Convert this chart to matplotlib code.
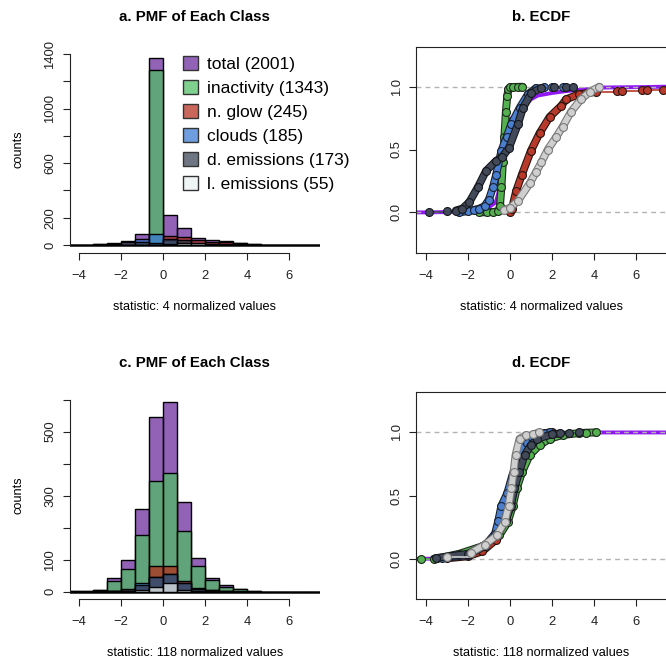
import matplotlib
matplotlib.use("Agg")
import matplotlib.pyplot as plt
from matplotlib.patches import Patch
from matplotlib.collections import LineCollection
import matplotlib.patheffects as pe

plt.rcParams['font.family'] = ['Liberation Sans', 'DejaVu Sans']

# ---------------- data ----------------
class_names = ["total", "inactivity", "n. glow", "clouds", "d. emissions", "l. emissions"]
class_sizes = [2001, 1343, 245, 185, 173, 55]

# histogram bins (left edges, width 2/3)
bin_left = [-4.667, -4.0, -3.333, -2.667, -2.0, -1.333, -0.667, 0.0, 0.667,
            1.333, 2.0, 2.667, 3.333, 4.0, 4.667, 5.333, 6.0, 6.667, 7.333]
bin_width = 0.6667

# panel a: statistic 4
pmf4_total = [1, 3, 5, 12, 27, 78, 1369, 222, 121, 53, 34, 32, 15, 7, 2, 1, 2, 1, 0]
pmf4_inact = [0, 0, 0, 1, 2, 20, 1284, 30, 4, 1, 0, 0, 0, 0, 0, 0, 0, 0, 0]
pmf4_glow = [0, 0, 0, 0, 1, 4, 10, 66, 58, 33, 25, 23, 12, 6, 2, 1, 2, 1, 0]
pmf4_clouds = [0, 0, 0, 1, 3, 41, 78, 40, 12, 5, 2, 1, 1, 0, 0, 0, 0, 0, 0]
pmf4_demis = [1, 2, 4, 10, 22, 24, 15, 45, 35, 10, 4, 1, 0, 0, 0, 0, 0, 0, 0]
pmf4_lemis = [0, 0, 0, 0, 0, 0, 1, 6, 11, 12, 10, 9, 4, 2, 0, 0, 0, 0, 0]

# panel c: statistic 118
pmf118_total = [1, 3, 5, 42, 100, 258, 545, 593, 281, 104, 42, 20, 8, 2, 0, 0, 0, 0, 0]
pmf118_inact = [1, 2, 4, 33, 70, 177, 347, 370, 190, 81, 35, 16, 8, 2, 0, 0, 0, 0, 0]
pmf118_glow = [0, 0, 0, 2, 5, 15, 81, 81, 34, 12, 5, 3, 1, 0, 0, 0, 0, 0, 0]
pmf118_clouds = [0, 0, 1, 2, 6, 28, 45, 55, 28, 9, 4, 2, 0, 0, 0, 0, 0, 0, 0]
pmf118_demis = [0, 0, 1, 2, 9, 20, 46, 56, 27, 8, 3, 1, 0, 0, 0, 0, 0, 0, 0]
pmf118_lemis = [0, 0, 0, 1, 2, 4, 14, 28, 5, 1, 0, 0, 0, 0, 0, 0, 0, 0, 0]

# panel b: ECDF knots, statistic 4
ecdf4_total_x = [-3.84, -2.9, -2.5, -1.5, -1.0, -0.67, -0.55, -0.4, -0.25, -0.1, 0.0, 0.3, 0.67,
                 1.0, 1.33, 2.0, 2.67, 3.33, 4.0, 4.3, 5.0, 6.3, 7.3]
ecdf4_total_F = [0.0, 0.003, 0.008, 0.02, 0.04, 0.08, 0.15, 0.35, 0.55, 0.68, 0.74, 0.77, 0.84,
                 0.9, 0.93, 0.95, 0.965, 0.975, 0.985, 0.993, 0.995, 0.997, 1.0]
ecdf4_inact_x = [-1.45, -1.1, -0.8, -0.55, -0.47, -0.4, -0.33, -0.26, -0.19, -0.12, -0.07, 0.0, 0.15, 0.4, 0.6]
ecdf4_inact_F = [0.0, 0.001, 0.003, 0.01, 0.05, 0.2, 0.4, 0.6, 0.8, 0.93, 0.98, 0.995, 0.998, 0.999, 1.0]
ecdf4_glow_x = [0.0, 0.1, 0.3, 0.57, 1.0, 1.41, 1.89, 2.45, 2.67, 3.3, 4.1, 5.07, 5.3, 6.26, 6.5, 7.27]
ecdf4_glow_F = [0.0, 0.03, 0.17, 0.3, 0.49, 0.63, 0.76, 0.85, 0.9, 0.94, 0.96, 0.965, 0.967, 0.97, 0.972, 0.975]
ecdf4_clouds_x = [-2.4, -2.0, -1.7, -1.45, -1.2, -1.0, -0.8, -0.65, -0.4, -0.15, 0.06, 0.46, 0.86, 1.25, 1.6, 2.0, 2.5]
ecdf4_clouds_F = [0.0, 0.01, 0.02, 0.03, 0.05, 0.1, 0.2, 0.3, 0.49, 0.6, 0.7, 0.83, 0.94, 0.99, 0.995, 0.997, 1.0]
ecdf4_demis_x = [-3.84, -2.96, -2.56, -2.25, -1.93, -1.52, -1.13, -0.65, -0.37, -0.05, 0.38, 0.62,
                 1.02, 1.49, 2.1, 2.67, 3.0]
ecdf4_demis_F = [0.005, 0.01, 0.015, 0.03, 0.08, 0.2, 0.33, 0.41, 0.44, 0.51, 0.7, 0.83,
                 0.95, 0.99, 0.994, 0.997, 1.0]
ecdf4_lemis_x = [-0.3, 0.0, 0.38, 0.94, 1.24, 1.5, 1.8, 2.2, 2.5, 2.9, 3.38, 3.8, 4.25]
ecdf4_lemis_F = [0.018, 0.036, 0.09, 0.23, 0.32, 0.4, 0.5, 0.6, 0.68, 0.8, 0.9, 0.96, 1.0]

# panel d: ECDF knots, statistic 118
ecdf118_total_x = [-4.2, -3.5, -2.5, -1.5, -1.0, -0.5, -0.2, 0.05, 0.25, 0.5, 0.8, 1.2, 1.6, 2.2, 3.0, 4.2]
ecdf118_total_F = [0.0, 0.002, 0.02, 0.06, 0.11, 0.2, 0.3, 0.45, 0.6, 0.74, 0.85, 0.92, 0.95, 0.975, 0.99, 1.0]
ecdf118_inact_x = [-4.2, -3.6, -3.45, -2.4, -1.3, -0.5, -0.1, 0.14, 0.33, 0.59, 0.94, 1.41, 1.89, 2.5, 3.3, 3.6, 4.1]
ecdf118_inact_F = [0.001, 0.002, 0.003, 0.04, 0.1, 0.185, 0.29, 0.42, 0.56, 0.69, 0.82, 0.9, 0.95, 0.98, 0.995, 0.998, 1.0]
ecdf118_glow_x = [-3.0, -2.0, -1.3, -0.67, -0.3, 0.0, 0.2, 0.4, 0.6, 0.8, 1.2, 2.0]
ecdf118_glow_F = [0.004, 0.02, 0.06, 0.15, 0.3, 0.48, 0.62, 0.78, 0.9, 0.96, 0.99, 1.0]
ecdf118_clouds_x = [-3.2, -2.0, -1.2, -0.7, -0.55, -0.4, -0.12, 0.1, 0.4, 0.8, 1.3, 1.9]
ecdf118_clouds_F = [0.005, 0.03, 0.1, 0.2, 0.3, 0.42, 0.52, 0.65, 0.8, 0.92, 0.98, 1.0]
ecdf118_demis_x = [-3.5, -2.0, -1.25, -0.6, -0.2, 0.05, 0.22, 0.45, 0.7, 1.0, 1.3, 2.0, 2.4, 2.8, 3.3]
ecdf118_demis_F = [0.006, 0.04, 0.1, 0.19, 0.3, 0.42, 0.56, 0.69, 0.82, 0.9, 0.95, 0.985, 0.992, 0.996, 1.0]
ecdf118_lemis_x = [-3.0, -1.84, -1.2, -0.62, -0.25, -0.06, 0.07, 0.18, 0.27, 0.46, 0.78, 1.1, 1.4]
ecdf118_lemis_F = [0.018, 0.05, 0.11, 0.185, 0.29, 0.42, 0.56, 0.69, 0.82, 0.95, 0.98, 0.99, 1.0]

x_ticks = [-4, -2, 0, 2, 4, 6]
pmf4_yticks = [0, 200, 400, 600, 800, 1000, 1200, 1400]
pmf4_yticklabels = ["0", "200", "", "600", "", "1000", "", "1400"]
pmf118_yticks = [0, 100, 200, 300, 400, 500, 600]
pmf118_yticklabels = ["0", "100", "", "300", "", "500", ""]
ecdf_yticks = [0.0, 0.5, 1.0]
ecdf_yticklabels = ["0.0", "0.5", "1.0"]

# ---------------- style ----------------
ALPHA = 0.72
hist_rgb = [(104, 37, 156), (79, 190, 101), (179, 45, 26), (54, 120, 212), (56, 65, 84), (234, 240, 240)]
hist_colors = [(r / 255, g / 255, b / 255, ALPHA) for r, g, b in hist_rgb]
ecdf_colors = ["#8f18f0", "#55b04f", "#b83a2a", "#4a7fd0", "#424a5a", "#cfcfcf"]
ecdf_edges = ["none", "#1c2a1c", "#2a1410", "#18202e", "#15181d", "#7a7a7a"]

W, H = 666, 663
fig = plt.figure(figsize=(W / 100, H / 100), dpi=100)


def axes_px(left, top, right, bottom):
    return fig.add_axes([left / W, 1 - bottom / H, (right - left) / W, (bottom - top) / H])


ax_a = axes_px(70, 46.5, 319.6, 252.6)
ax_b = axes_px(416.3, 46.5, 666.6, 252.6)
ax_c = axes_px(70, 392, 319.6, 599.3)
ax_d = axes_px(416.3, 392, 666.6, 599.3)

XLIM = (-4.44, 7.44)
TICK_KW = dict(direction='out', length=5.3, width=0.8, labelsize=9.4, color='#222222',
               labelcolor='#222222')


def style_common(ax):
    ax.set_xlim(*XLIM)
    ax.set_xticks(x_ticks)
    ax.set_xticklabels([f"{t:g}".replace("-", "\u2212") for t in x_ticks])
    ax.tick_params(axis='x', pad=7, **TICK_KW)
    ax.tick_params(axis='y', pad=4.5, **TICK_KW)
    for lab in ax.get_yticklabels():
        lab.set_rotation(90)
        lab.set_va('center')
    for s in ax.spines.values():
        s.set_linewidth(0.8)
        s.set_color('#222222')


def draw_pmf(ax, series, yticks, yticklabels, ylim):
    for vals, col in zip(series, hist_colors):
        ax.bar(bin_left, vals, width=bin_width, align='edge', color=col,
               edgecolor='black', linewidth=1.0)
    ax.set_ylim(*ylim)
    ax.set_yticks(yticks)
    ax.set_yticklabels(yticklabels)
    style_common(ax)
    ax.spines['top'].set_visible(False)
    ax.spines['right'].set_visible(False)
    ax.spines['left'].set_bounds(yticks[0], yticks[-1])
    ax.spines['bottom'].set_bounds(x_ticks[0], x_ticks[-1])
    ax.set_ylabel("counts", fontsize=9.2)
    ax.yaxis.label.set_va('center')
    ax.yaxis.set_label_coords(-0.207, 0.5)


LW_CORE, LW_EDGE, MS = 4.1, 5.7, 5.7


def draw_ecdf_class(ax, xs, fs, n, color, edge, z):
    # dense stretches look like a thick outlined band, sparse ones show separate points
    dense = []
    for i in range(len(xs) - 1):
        dx = max(xs[i + 1] - xs[i], 1e-6)
        dense.append((fs[i + 1] - fs[i]) * n / dx >= 3.0)
    runs, cur = [], [0]
    for i, d in enumerate(dense):
        if d:
            cur.append(i + 1)
        else:
            runs.append(cur)
            cur = [i + 1]
    runs.append(cur)
    thin = [[(xs[i], fs[i]), (xs[i + 1], fs[i])] for i, d in enumerate(dense) if not d]
    if thin:
        ax.add_collection(LineCollection(thin, colors=color, linewidths=1.2, zorder=z))
    for r in runs:
        if len(r) > 1:
            ax.plot([xs[i] for i in r], [fs[i] for i in r], color=color, lw=LW_CORE,
                    solid_capstyle='round', solid_joinstyle='round', zorder=z + 0.1,
                    path_effects=[pe.Stroke(linewidth=LW_EDGE, foreground=edge), pe.Normal()])
    ax.plot(xs, fs, 'o', ms=MS, mfc=color, mec=edge, mew=0.8, zorder=z + 0.2, linestyle='none')


def draw_ecdf(ax, curves):
    (tx, tf), rest = curves[0], curves[1:]
    ax.plot([XLIM[0] - 1] + tx + [XLIM[1] + 1], [0.0] + tf + [tf[-1]],
            color=ecdf_colors[0], lw=2.8, zorder=2, solid_joinstyle='round')
    for y in (0.0, 1.0):
        ax.axhline(y, color='#b3b3b3', lw=1.0, ls=(0, (3.5, 3.0)), zorder=2.5)
    for k, (xs, fs) in enumerate(rest, start=1):
        draw_ecdf_class(ax, xs, fs, class_sizes[k], ecdf_colors[k], ecdf_edges[k], 3 + k)
    ax.set_ylim(-0.32, 1.32)
    ax.set_yticks(ecdf_yticks)
    ax.set_yticklabels(ecdf_yticklabels)
    style_common(ax)


draw_pmf(ax_a, [pmf4_total, pmf4_inact, pmf4_glow, pmf4_clouds, pmf4_demis, pmf4_lemis],
         pmf4_yticks, pmf4_yticklabels, (-56, 1456))
draw_pmf(ax_c, [pmf118_total, pmf118_inact, pmf118_glow, pmf118_clouds, pmf118_demis, pmf118_lemis],
         pmf118_yticks, pmf118_yticklabels, (-24, 624))

draw_ecdf(ax_b, [(ecdf4_total_x, ecdf4_total_F), (ecdf4_inact_x, ecdf4_inact_F),
                 (ecdf4_glow_x, ecdf4_glow_F), (ecdf4_clouds_x, ecdf4_clouds_F),
                 (ecdf4_demis_x, ecdf4_demis_F), (ecdf4_lemis_x, ecdf4_lemis_F)])
draw_ecdf(ax_d, [(ecdf118_total_x, ecdf118_total_F), (ecdf118_inact_x, ecdf118_inact_F),
                 (ecdf118_glow_x, ecdf118_glow_F), (ecdf118_clouds_x, ecdf118_clouds_F),
                 (ecdf118_demis_x, ecdf118_demis_F), (ecdf118_lemis_x, ecdf118_lemis_F)])

# legend in panel a
handles = [Patch(facecolor=c, edgecolor='#333333', linewidth=1.0) for c in hist_colors]
labels = [f"{n} ({s})" for n, s in zip(class_names, class_sizes)]
ax_a.legend(handles, labels, loc='upper left', bbox_to_anchor=(0.453, 0.955), frameon=False,
            fontsize=12.5, handlelength=0.87, handleheight=0.87, handletextpad=0.5,
            labelspacing=0.46, borderpad=0, borderaxespad=0)

# titles and x labels
titles = ["a. PMF of Each Class", "b. ECDF", "c. PMF of Each Class", "d. ECDF"]
xlabels = ["statistic: 4 normalized values", "statistic: 4 normalized values",
           "statistic: 118 normalized values", "statistic: 118 normalized values"]
for ax, t, xl, (ty, ly) in zip([ax_a, ax_b, ax_c, ax_d], titles, xlabels,
                               [(17.3, 306.7), (17.3, 306.7), (363.3, 653.3), (363.3, 653.3)]):
    bb = ax.get_position()
    cx = (bb.x0 + bb.x1) / 2
    fig.text(cx, 1 - ty / H, t, ha='center', va='center', fontsize=10.8, fontweight='bold')
    fig.text(cx, 1 - ly / H, xl, ha='center', va='center', fontsize=9.2)

fig.savefig("out.png", dpi=100)
